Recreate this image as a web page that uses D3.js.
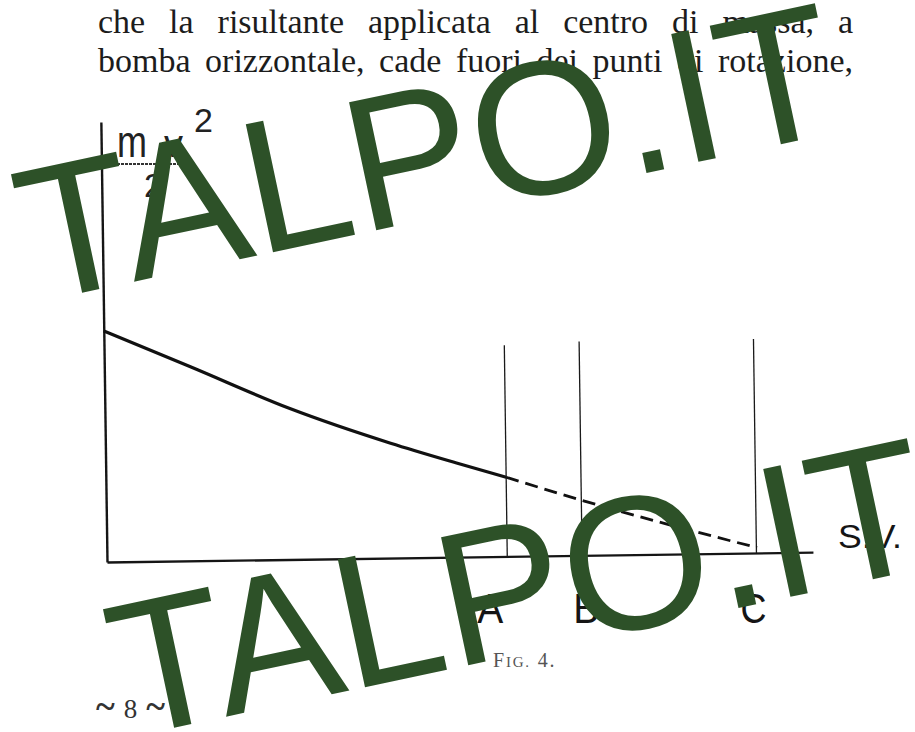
<!DOCTYPE html>
<html>
<head>
<meta charset="utf-8">
<script src="https://cdn.jsdelivr.net/npm/d3@7"></script>
<style>
  html, body { margin: 0; padding: 0; background: #fff; }
  svg { display: block; }
</style>
</head>
<body>
<svg id="page" width="915" height="732"></svg>
<script>
// ---- text of the page ----
const lines = [
  'che la risultante applicata al centro di massa, a',
  'bomba orizzontale, cade fuori dei punti di rotazione,'
];

// ---- figure data (arbitrary units, 0..100 on both axes) ----
const curveX = [0, 12.2, 26.2, 40.4, 49.7, 56.7];
const curveY = [52.5, 44.1, 34.3, 26.1, 21.4, 18.0];
const dashX = [56.7, 67.4, 92.1];
const dashY = [18.0, 12.5, 1.2];

const markNames = ['A', 'B', 'C'];
const markX = [56.7, 67.3, 92.0];
const markTop = [48.0, 48.6, 48.6];
const markDx = [-17, 4, -3];

const watermark = 'TALPO.IT';

const svg = d3.select('#page');
svg.append('rect').attr('width', 915).attr('height', 732).attr('fill', '#fff');

// ===== justified body text =====
const left = 98, right = 853;
lines.forEach((line, li) => {
  const words = line.split(' ');
  const g = svg.append('g')
    .attr('font-family', '"Liberation Serif", "DejaVu Serif", serif')
    .attr('font-size', 34)
    .attr('fill', '#1c1c1c');
  const nodes = words.map(w => g.append('text').attr('y', 33 + li * 39).text(w));
  const widths = nodes.map(n => n.node().getComputedTextLength());
  const gap = (right - left - d3.sum(widths)) / (words.length - 1);
  let cx = left;
  nodes.forEach((n, i) => { n.attr('x', cx); cx += widths[i] + gap; });
});

// ===== the figure =====
const x = d3.scaleLinear().domain([0, 100]).range([0, 706]);
const y = d3.scaleLinear().domain([0, 100]).range([0, -440]);

const fig = svg.append('g').attr('transform', 'translate(107,562) rotate(-0.8)');

fig.append('g')
  .call(d3.axisBottom(x).tickValues([]).tickSizeOuter(0))
  .call(a => a.select('.domain').attr('stroke', '#151515').attr('stroke-width', 2.4));
fig.append('g')
  .call(d3.axisLeft(y).tickValues([]).tickSizeOuter(0))
  .call(a => a.select('.domain').attr('stroke', '#151515').attr('stroke-width', 2.4));

fig.selectAll('line.mark')
  .data(markX)
  .join('line')
  .attr('class', 'mark')
  .attr('x1', d => x(d)).attr('x2', d => x(d))
  .attr('y1', y(0)).attr('y2', (d, i) => y(markTop[i]))
  .attr('stroke', '#1a1a1a').attr('stroke-width', 1.3);

const line = d3.line().x(d => x(d[0])).y(d => y(d[1])).curve(d3.curveMonotoneX);

fig.append('path')
  .attr('d', line(d3.zip(curveX, curveY)))
  .attr('fill', 'none').attr('stroke', '#111').attr('stroke-width', 3.2);

fig.append('path')
  .attr('d', line(d3.zip(dashX, dashY)))
  .attr('fill', 'none').attr('stroke', '#111').attr('stroke-width', 2.8)
  .attr('stroke-dasharray', '13,7');

// ===== figure labels =====
const sans = '"Liberation Sans", Arial, sans-serif';

svg.selectAll('text.mark')
  .data(markNames)
  .join('text')
  .attr('class', 'mark')
  .attr('x', (d, i) => 107 + x(markX[i]) + markDx[i])
  .attr('y', 623)
  .attr('text-anchor', 'middle')
  .attr('font-family', sans).attr('font-size', 42)
  .attr('textLength', 26).attr('lengthAdjust', 'spacingAndGlyphs')
  .attr('fill', '#151515')
  .text(d => d);

svg.append('text')
  .attr('x', 838).attr('y', 548)
  .attr('font-family', sans).attr('font-size', 34)
  .attr('textLength', 64).attr('lengthAdjust', 'spacingAndGlyphs')
  .attr('fill', '#151515')
  .text('S.V.');

// m v^2 / 2 on the vertical axis
const lab = svg.append('g').attr('font-family', sans).attr('fill', '#222');
lab.append('text').attr('x', 117).attr('y', 157).attr('font-size', 44)
  .attr('textLength', 30).attr('lengthAdjust', 'spacingAndGlyphs').text('m');
lab.append('text').attr('x', 164).attr('y', 157).attr('font-size', 38).text('v');
lab.append('text').attr('x', 194).attr('y', 132).attr('font-size', 34).text('2');
lab.append('line').attr('x1', 117).attr('x2', 188).attr('y1', 164).attr('y2', 164)
  .attr('stroke', '#333').attr('stroke-width', 2).attr('stroke-dasharray', '3,1');
lab.append('text').attr('x', 144).attr('y', 197).attr('font-size', 34).text('2');

// caption and page number
const cap = svg.append('text')
  .attr('x', 493).attr('y', 667)
  .attr('font-family', '"Liberation Serif", serif')
  .attr('fill', '#555').attr('letter-spacing', 1.8);
cap.append('tspan').attr('font-size', 20).text('F');
cap.append('tspan').attr('font-size', 15).text('IG.');
cap.append('tspan').attr('font-size', 20).text(' 4.');

const pg = svg.append('text')
  .attr('x', 96).attr('y', 718)
  .attr('font-family', '"Liberation Serif", serif')
  .attr('fill', '#333');
pg.append('tspan').attr('font-size', 36).attr('font-weight', 'bold').text('~');
pg.append('tspan').attr('font-size', 27).attr('dx', 9).text('8');
pg.append('tspan').attr('font-size', 36).attr('font-weight', 'bold').attr('dx', 9).text('~');

// ===== watermark =====
[[34, 303], [126, 738]].forEach(([tx, ty]) => {
  svg.append('text')
    .attr('transform', `translate(${tx},${ty}) rotate(-12)`)
    .attr('font-family', sans)
    .attr('font-size', 190)
    .attr('fill', '#2d5128')
    .text(watermark);
});
</script>
</body>
</html>
